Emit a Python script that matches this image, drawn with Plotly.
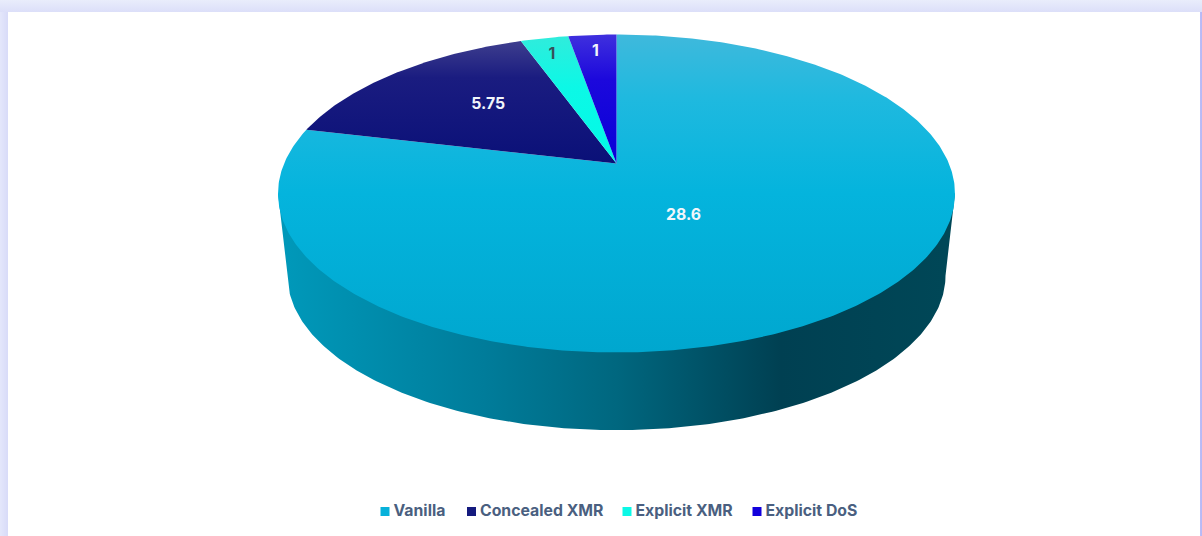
import math
import numpy as np
import plotly.graph_objects as go

categories = ["Vanilla", "Concealed XMR", "Explicit XMR", "Explicit DoS"]
values = [28.6, 5.75, 1, 1]
value_labels = ["28.6", "5.75", "1", "1"]

# styling / layout
W, H = 1202, 536
CX, APEX_Y = 616.5, 163.5
SX, SY, K = 332.4, 153.3, 0.1887
LOWER_SCALE, LOWER_APEX_Y = 0.972, 246.5
TOP_STOPS = [
    [(0, "#3fb9dc"), (0.2, "#1fb9df"), (0.5, "#04b4dd"), (1, "#00a7cf")],
    [(0, "#3e3e8e"), (0.3, "#1a1c80"), (1, "#0a1078")],
    [(0, "#30ecdc"), (0.4, "#0cf8e6"), (1, "#00fbe8")],
    [(0, "#3f30de"), (0.35, "#1c08dc"), (1, "#0800d8")],
]
LEGEND_SWATCH = ["#07b1da", "#141a7e", "#0cf8e6", "#1200dc"]
SIDE_STOPS = [(0, "#0098b9"), (0.3, "#007c9a"), (0.5, "#00677f"),
              (0.75, "#004052"), (1, "#004757")]
LABEL_R = [0.31, 0.553, 0.88, 0.85]
LABEL_NUDGE = [13.5, -5.5, 3.5, 0.5]
LABEL_COLORS = ["#f1f6fb", "#f1f6fb", "#37505a", "#f1f6fb"]
LEGEND_MARK_X = [385, 471.5, 627, 757]
LEGEND_Y = 511.5
FONT = "Inter, Noto Sans, sans-serif"


def project(theta, r=1.0, scale=1.0, apex=APEX_Y):
    """theta in radians clockwise from top; perspective projection of the disc."""
    X = r * np.sin(theta)
    Y = r * np.cos(theta)
    w = 1 + K * Y
    return CX + scale * SX * X / w, apex - scale * SY * Y / w


def scale_of(stops):
    return [[p, c] for p, c in stops]


fig = go.Figure()

# page backdrop
def band(x0, x1, y0, y1, kind, stops):
    fig.add_trace(go.Scatter(
        x=[x0, x1, x1, x0, x0], y=[y0, y0, y1, y1, y0], mode="lines",
        line=dict(width=0), fill="toself", hoverinfo="skip", showlegend=False,
        fillgradient=dict(type=kind, colorscale=scale_of(stops),
                          start=x0 if kind == "horizontal" else y0,
                          stop=x1 if kind == "horizontal" else y1)))


band(0, W, 0, 12, "vertical", [(0, "#e9edfb"), (1, "#dcdff9")])
band(0, 8, 12, H, "horizontal", [(0, "#e4e7fb"), (1, "#d8dbf8")])
band(1200, W, 12, H, "horizontal", [(0, "#bcbdf6"), (1, "#b6b8f6")])

# side wall (its upper edge runs just inside the top face so no seam shows)
t0 = math.acos(-K)
arc = np.linspace(t0, 2 * math.pi - t0, 240)
ex, ey = project(np.array([t0, 2 * math.pi - t0]))
tx, ty = project(arc, r=0.98)
bx, by = project(arc[::-1], scale=LOWER_SCALE, apex=LOWER_APEX_Y)
side_x = np.concatenate([ex[:1], tx, ex[1:], bx, ex[:1]])
side_y = np.concatenate([ey[:1], ty, ey[1:], by, ey[:1]])
fig.add_trace(go.Scatter(
    x=side_x, y=side_y, mode="lines", line=dict(width=0), fill="toself",
    hoverinfo="skip", showlegend=False,
    fillgradient=dict(type="horizontal", colorscale=scale_of(SIDE_STOPS),
                      start=float(bx.min()), stop=float(bx.max()))))

# top face sectors
total = sum(values)
edges = np.cumsum([0] + values) / total * 2 * math.pi
top_edge = APEX_Y - SY / (1 + K)
bottom_edge = APEX_Y + SY / (1 - K)
for i, name in enumerate(categories):
    th = np.linspace(edges[i], edges[i + 1], max(8, int(values[i] * 16)))
    px, py = project(th)
    sx = np.concatenate([[CX], px, [CX]])
    sy = np.concatenate([[APEX_Y], py, [APEX_Y]])
    lo, hi = float(py.min()), max(float(py.max()), APEX_Y)
    if i == 0:
        lo, hi = top_edge, bottom_edge
    fig.add_trace(go.Scatter(
        x=sx, y=sy, mode="lines", name=name, line=dict(width=0), fill="toself",
        hoverinfo="name", showlegend=False,
        fillgradient=dict(type="vertical", colorscale=scale_of(TOP_STOPS[i]),
                          start=lo, stop=hi)))

# value labels
mids = (edges[:-1] + edges[1:]) / 2
lx, ly = [], []
for m, r, n in zip(mids, LABEL_R, LABEL_NUDGE):
    a, b = project(m, r=r)
    lx.append(float(a))
    ly.append(float(b) + n)
fig.add_trace(go.Scatter(
    x=lx, y=ly, mode="text", text=value_labels, textposition="middle center",
    textfont=dict(family=FONT, size=15.8, weight=700, color=LABEL_COLORS),
    hoverinfo="skip", showlegend=False))

# legend row
fig.add_trace(go.Scatter(
    x=LEGEND_MARK_X, y=[LEGEND_Y] * 4, mode="markers",
    marker=dict(symbol="square", size=9, color=LEGEND_SWATCH, line=dict(width=0)),
    hoverinfo="skip", showlegend=False))
fig.add_trace(go.Scatter(
    x=[v + 8.5 for v in LEGEND_MARK_X], y=[LEGEND_Y + 1] * 4, mode="text", text=categories,
    textposition="middle right",
    textfont=dict(family=FONT, size=15.8, weight=700, color="#4a5f80"),
    hoverinfo="skip", showlegend=False))

fig.update_layout(
    width=W, height=H, margin=dict(l=0, r=0, t=0, b=0),
    paper_bgcolor="#ffffff", plot_bgcolor="#ffffff", showlegend=False,
    xaxis=dict(range=[0, W], visible=False, fixedrange=True),
    yaxis=dict(range=[H, 0], visible=False, fixedrange=True),
)
fig.write_html("out.html", config={"displayModeBar": False},
               post_script="document.body.style.margin='0';document.documentElement.style.overflow='hidden';")
